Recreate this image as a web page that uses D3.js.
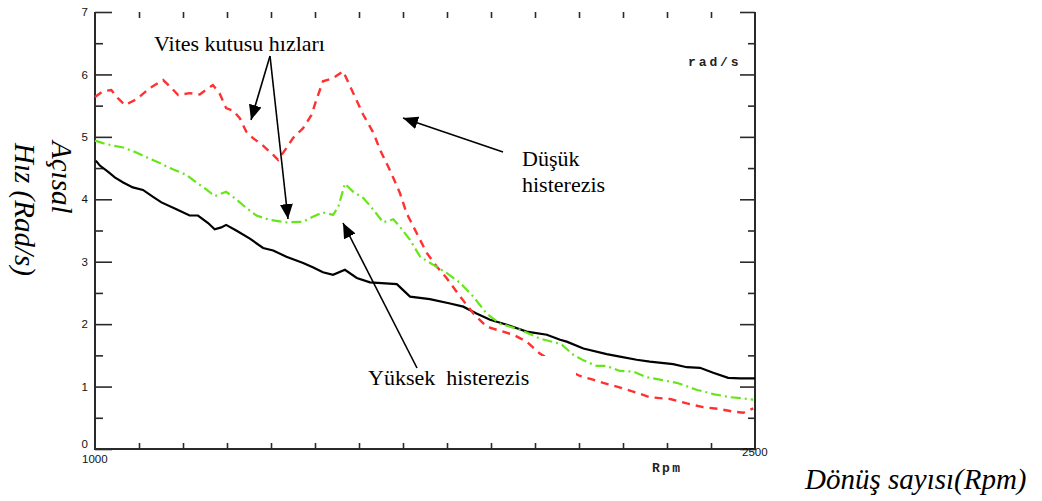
<!DOCTYPE html>
<html><head><meta charset="utf-8">
<script src="https://cdn.jsdelivr.net/npm/d3@7"></script>
<style>html,body{margin:0;padding:0;background:#fff;}svg{display:block;}</style>
</head><body>
<script>
// Data (rpm, angular speed rad/s)
const blackRpm = [1002,1011,1030,1045,1064,1086,1109,1132,1151,1185,1215,1234,1257,1272,1287,1298,1321,1352,1382,1405,1435,1473,1495,1518,1541,1568,1595,1625,1686,1716,1761,1807,1837,1867,1898,1936,1981,2027,2057,2072,2110,2163,2193,2231,2261,2314,2345,2375,2405,2439,2466,2500];
const blackVal = [4.62,4.54,4.44,4.35,4.27,4.19,4.15,4.04,3.95,3.84,3.74,3.74,3.62,3.52,3.55,3.59,3.50,3.37,3.22,3.18,3.08,2.98,2.91,2.83,2.79,2.87,2.74,2.67,2.64,2.44,2.40,2.33,2.28,2.17,2.07,1.99,1.88,1.83,1.75,1.72,1.61,1.52,1.48,1.43,1.40,1.36,1.31,1.30,1.22,1.14,1.13,1.13];

const greenRpm = [1000,1018,1041,1064,1094,1124,1147,1177,1208,1230,1253,1272,1298,1321,1344,1367,1397,1435,1473,1495,1518,1541,1553,1568,1587,1610,1633,1655,1678,1693,1716,1739,1769,1799,1830,1860,1890,1920,1966,2011,2049,2061,2087,2110,2140,2163,2193,2223,2254,2284,2322,2367,2405,2443,2473,2496];
const greenVal = [4.94,4.90,4.86,4.83,4.75,4.65,4.58,4.48,4.39,4.27,4.16,4.05,4.12,4.00,3.86,3.74,3.67,3.63,3.64,3.72,3.79,3.75,3.88,4.25,4.12,4.02,3.83,3.63,3.68,3.56,3.35,3.08,2.95,2.82,2.66,2.44,2.17,2.01,1.91,1.77,1.70,1.67,1.51,1.42,1.33,1.33,1.25,1.24,1.15,1.11,1.06,0.95,0.88,0.83,0.81,0.79];

const redRpm = [1000,1018,1037,1052,1068,1094,1124,1155,1170,1189,1215,1238,1268,1283,1298,1314,1329,1344,1359,1382,1405,1416,1435,1450,1473,1492,1503,1518,1541,1564,1587,1610,1633,1648,1670,1693,1708,1731,1754,1777,1799,1830,1860,1890,1913,1951,1981,2011,2057,2102,2132,2155,2186,2223,2261,2307,2345,2382,2420,2450,2473,2496];
const redVal = [5.64,5.73,5.75,5.62,5.51,5.60,5.78,5.91,5.81,5.67,5.70,5.68,5.83,5.70,5.46,5.42,5.30,5.08,4.98,4.86,4.71,4.63,4.82,4.98,5.14,5.35,5.59,5.89,5.94,6.05,5.70,5.35,5.06,4.79,4.47,4.10,3.78,3.46,3.14,2.92,2.74,2.44,2.17,1.96,1.91,1.83,1.72,1.53,1.33,1.17,1.11,1.06,1.00,0.92,0.83,0.80,0.73,0.67,0.64,0.60,0.58,0.65];

const yMajorTicks = [0,1,2,3,4,5,6,7];
const yMinorTicks = [0.5,1.5,2.5,3.5,4.5,5.5,6.5];
const xTicks = [1100,1200,1300,1400,1500,1600,1700,1800,1900,2000,2100,2200,2300,2400];
const xEndLabels = ["1000","2500"];

const W = 1042, H = 501;
const svg = d3.select("body").append("svg").attr("width", W).attr("height", H);
const x = d3.scaleLinear().domain([1000, 2500]).range([95, 755]);
const y = d3.scaleLinear().domain([0, 7]).range([449, 12]);

const axisColor = "#2a2a2a";
const sansFont = "Liberation Sans, Arial, sans-serif";

function styleAxis(sel) {
  sel.select(".domain").remove();
  sel.selectAll(".tick line").attr("stroke", axisColor).attr("stroke-width", 1.6);
  sel.selectAll(".tick text").attr("font-family", sansFont).attr("font-size", 11.5).attr("fill", "#111");
}

// Left axis: major with labels, minor without
svg.append("g").attr("transform", `translate(${x(1000)},0)`)
  .call(d3.axisLeft(y).tickValues(yMajorTicks).tickSizeInner(-17).tickSizeOuter(0).tickPadding(7).tickFormat(d3.format("d")))
  .call(styleAxis)
  .call(s => s.selectAll(".tick text").filter(d => d === 0).attr("dy", "-0.1em"));
svg.append("g").attr("transform", `translate(${x(1000)},0)`)
  .call(d3.axisLeft(y).tickValues(yMinorTicks).tickSizeInner(-8).tickSizeOuter(0).tickFormat(""))
  .call(styleAxis);
// Right axis ticks
svg.append("g").attr("transform", `translate(${x(2500)},0)`)
  .call(d3.axisRight(y).tickValues(yMajorTicks).tickSizeInner(-15).tickSizeOuter(0).tickFormat(""))
  .call(styleAxis);
svg.append("g").attr("transform", `translate(${x(2500)},0)`)
  .call(d3.axisRight(y).tickValues(yMinorTicks).tickSizeInner(-7).tickSizeOuter(0).tickFormat(""))
  .call(styleAxis);
// Bottom and top ticks
svg.append("g").attr("transform", `translate(0,${y(0)})`)
  .call(d3.axisBottom(x).tickValues(xTicks).tickSizeInner(-6).tickSizeOuter(0).tickFormat(""))
  .call(styleAxis);
svg.append("g").attr("transform", `translate(0,${y(7)})`)
  .call(d3.axisTop(x).tickValues(xTicks).tickSizeInner(-6).tickSizeOuter(0).tickFormat(""))
  .call(styleAxis);

// frame lines (left, right, bottom)
const frame = svg.append("g").attr("stroke", axisColor).attr("stroke-width", 2).attr("fill", "none");
frame.append("path").attr("d", d3.line()([[x(1000), y(7)], [x(1000), y(0)], [x(2500), y(0)], [x(2500), y(7)]]));

svg.append("text").attr("x", 82).attr("y", 463).attr("font-family", sansFont)
  .attr("font-size", 11.5).attr("fill", "#111").text(xEndLabels[0]);
svg.append("text").attr("x", 742).attr("y", 456).attr("font-family", sansFont)
  .attr("font-size", 11.5).attr("fill", "#111").text(xEndLabels[1]);
svg.append("text").attr("x", 652).attr("y", 472).attr("font-family", "Liberation Mono, Courier New, monospace")
  .attr("font-size", 13).attr("font-weight", "bold").attr("letter-spacing", 2.3).attr("fill", "#222").text("Rpm");
svg.append("text").attr("x", 688).attr("y", 66).attr("font-family", "Liberation Mono, Courier New, monospace")
  .attr("font-size", 13).attr("font-weight", "bold").attr("letter-spacing", 2.9).attr("fill", "#222").text("rad/s");

// lines
const line = d3.line().x(d => x(d[0])).y(d => y(d[1]));
const black = blackRpm.map((r, i) => [r, blackVal[i]]);
const green = greenRpm.map((r, i) => [r, greenVal[i]]);
const red = redRpm.map((r, i) => [r, redVal[i]]);
svg.append("path").attr("d", line(black)).attr("fill", "none").attr("stroke", "#000").attr("stroke-width", 2.2);
svg.append("path").attr("d", line(red)).attr("fill", "none").attr("stroke", "#ff3030").attr("stroke-width", 2.4)
  .attr("stroke-dasharray", "8,6");
svg.append("path").attr("d", line(green)).attr("fill", "none").attr("stroke", "#66e619").attr("stroke-width", 2.2)
  .attr("stroke-dasharray", "10,4,2,4");

// white text box occluding part of the lines
svg.append("rect").attr("x", 345).attr("y", 356).attr("width", 231).attr("height", 56).attr("fill", "#fff");

// arrows
const defs = svg.append("defs");
defs.append("marker").attr("id", "ah").attr("markerUnits", "userSpaceOnUse")
  .attr("markerWidth", 16).attr("markerHeight", 14).attr("refX", 15).attr("refY", 6.5)
  .attr("orient", "auto").append("path").attr("d", "M0,0 L15,6.5 L0,13 Z").attr("fill", "#000");
const arrows = [
  [270, 56, 251, 120],
  [270, 56, 288, 219],
  [503, 152, 403, 118],
  [417, 368, 343, 223]
];
arrows.forEach(a => {
  svg.append("line").attr("x1", a[0]).attr("y1", a[1]).attr("x2", a[2]).attr("y2", a[3])
    .attr("stroke", "#000").attr("stroke-width", 1.6).attr("marker-end", "url(#ah)");
});

// annotation texts
const serif = "Liberation Serif, Times New Roman, serif";
svg.append("text").attr("x", 154).attr("y", 51).attr("font-family", serif).attr("font-size", 22).attr("fill", "#000").text("Vites kutusu hızları");
svg.append("text").attr("x", 522).attr("y", 166).attr("font-family", serif).attr("font-size", 22).attr("fill", "#000").text("Düşük");
svg.append("text").attr("x", 522).attr("y", 192).attr("font-family", serif).attr("font-size", 22).attr("fill", "#000").text("histerezis");
svg.append("text").attr("x", 368).attr("y", 385).attr("font-family", serif).attr("font-size", 22).attr("fill", "#000")
  .attr("xml:space", "preserve").style("white-space", "pre").text("Yüksek  histerezis");

// axis titles
svg.append("text").attr("transform", "translate(52,141) rotate(90)").attr("font-family", serif)
  .attr("font-style", "italic").attr("font-size", 29).attr("fill", "#000").text("Açısal");
svg.append("text").attr("transform", "translate(15,143) rotate(90)").attr("font-family", serif)
  .attr("font-style", "italic").attr("font-size", 29).attr("fill", "#000").text("Hız (Rad/s)");
svg.append("text").attr("x", 805).attr("y", 489).attr("font-family", serif)
  .attr("font-style", "italic").attr("font-size", 29).attr("fill", "#000").text("Dönüş sayısı(Rpm)");
</script>
</body></html>
